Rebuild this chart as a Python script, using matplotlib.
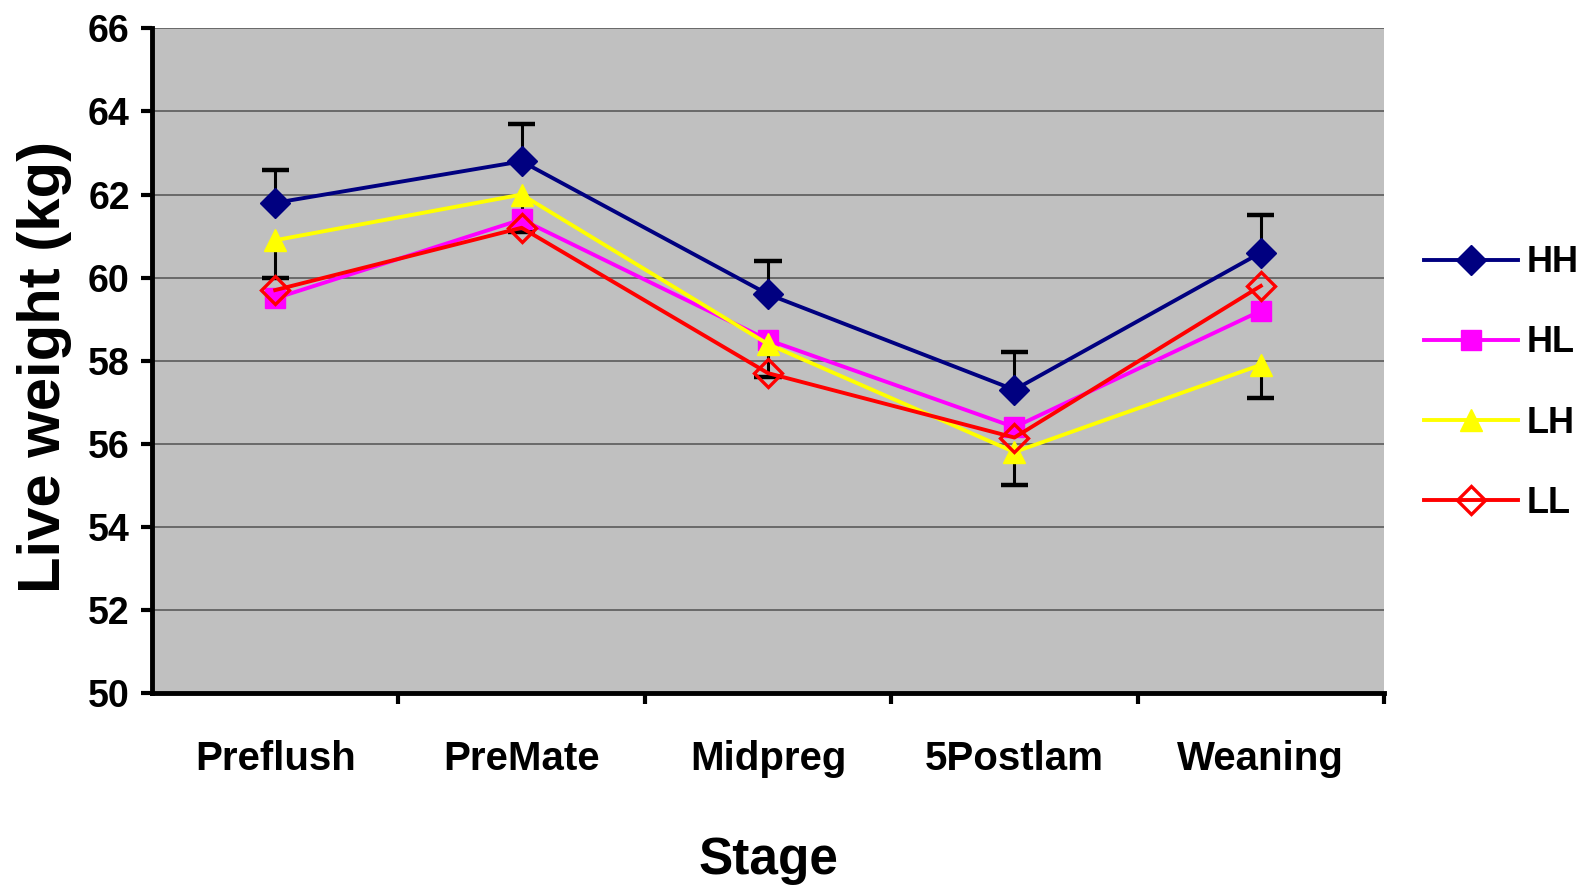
import numpy as np
import matplotlib
matplotlib.use("Agg")
import matplotlib.pyplot as plt

# stages and live weight means (kg)
stages = ["Preflush", "PreMate", "Midpreg", "5Postlam", "Weaning"]
hh = [61.8, 62.8, 59.6, 57.3, 60.6]
hl = [59.5, 61.4, 58.5, 56.4, 59.2]
lh = [60.9, 62.0, 58.4, 55.8, 57.9]
ll = [59.7, 61.2, 57.7, 56.15, 59.8]

# error bars: HH shown upward, LH shown downward
hh_err = [0.8, 0.9, 0.8, 0.9, 0.9]
lh_err = [0.9, 0.9, 0.8, 0.8, 0.8]

yticks = [50, 52, 54, 56, 58, 60, 62, 64, 66]

plt.rcParams['font.family'] = ['Liberation Sans', 'DejaVu Sans']

fig = plt.figure(figsize=(15.89, 8.88), dpi=100)
ax = fig.add_axes([152 / 1589, 1 - 693 / 888, (1384 - 152) / 1589, (693 - 28.4) / 888])
ax.set_facecolor('#c0c0c0')

x = np.arange(len(stages))
hh_a, lh_a = np.array(hh), np.array(lh)
hh_top = hh_a + np.array(hh_err)
lh_bot = lh_a - np.array(lh_err)

# one-sided error bars (no cap at the mean)
cap = 0.055
ax.vlines(x, hh_a, hh_top, color='black', lw=2.2, zorder=2)
ax.hlines(hh_top, x - cap, x + cap, color='black', lw=3.2, zorder=2)
ax.vlines(x, lh_bot, lh_a, color='black', lw=2.2, zorder=2)
ax.hlines(lh_bot, x - cap, x + cap, color='black', lw=3.2, zorder=2)

ax.plot(x, hh, color='#000080', lw=2.8, marker='D', ms=15.5, mfc='#000080',
        mec='#000080', label='HH', zorder=3)
ax.plot(x, hl, color='#ff00ff', lw=2.8, marker='s', ms=14, mfc='#ff00ff',
        mec='#ff00ff', label='HL', zorder=4)
ax.plot(x, lh, color='#ffff00', lw=2.8, marker='^', ms=16, mfc='#ffff00',
        mec='#ffff00', label='LH', zorder=5)
ax.plot(x, ll, color='#ff0000', lw=2.8, marker='D', ms=14, mfc='none',
        mec='#ff0000', mew=2.4, label='LL', zorder=6)

ax.set_xlim(-0.5, len(stages) - 0.5)
ax.set_ylim(50, 66)
ax.set_yticks(yticks)
ax.set_yticklabels([str(v) for v in yticks], fontsize=27, fontweight='bold')
for v in yticks[1:]:
    ax.axhline(v, color='#5a5a5a', lw=1.2, zorder=1)

ax.set_xticks(x)
ax.set_xticklabels(stages, fontsize=29, fontweight='bold')
ax.set_xticks(np.arange(0.5, len(stages)), minor=True)
ax.tick_params(axis='x', which='major', length=0, pad=34)
ax.tick_params(axis='x', which='minor', length=8, width=3, direction='out')
ax.tick_params(axis='y', length=8, width=3, direction='out', pad=8)

for side in ['top', 'right']:
    ax.spines[side].set_visible(False)
for side in ['left', 'bottom']:
    ax.spines[side].set_linewidth(3.5)

ax.set_ylabel('Live weight (kg)', fontsize=43, fontweight='bold')
ax.yaxis.set_label_coords(-0.065, 0.49)
ax.set_xlabel('Stage', fontsize=37, fontweight='bold')
ax.xaxis.set_label_coords(0.5, -0.215)

leg = ax.legend(loc='center left', bbox_to_anchor=(1424 / 1589, 1 - 383 / 888),
                bbox_transform=fig.transFigure, frameon=False, borderpad=0,
                borderaxespad=0, handlelength=2.6, handletextpad=0.25,
                labelspacing=1.25, prop=dict(size=26, weight='bold'))

fig.savefig('out.png', dpi=100, facecolor='white')
